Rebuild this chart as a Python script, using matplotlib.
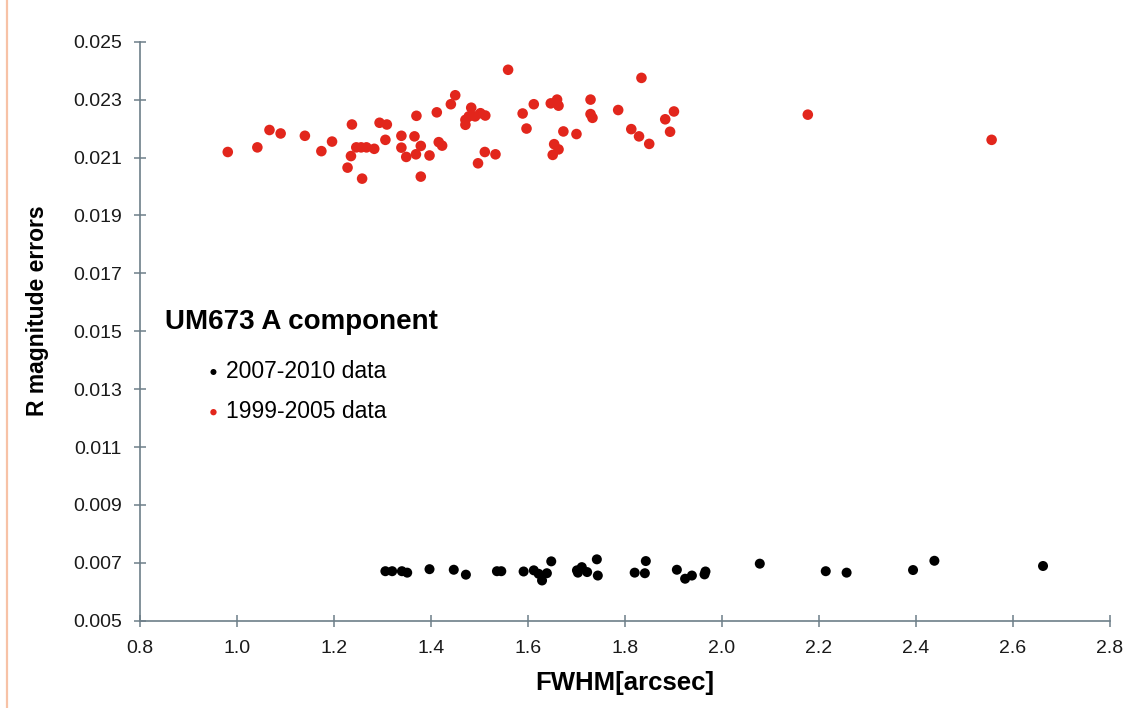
import matplotlib
matplotlib.use("Agg")
import matplotlib.pyplot as plt
from matplotlib.lines import Line2D

# FWHM [arcsec] and R magnitude errors, 1999-2005 data
fwhm_old = [0.981, 1.042, 1.067, 1.090, 1.140, 1.174, 1.196, 1.237, 1.235, 1.228,
            1.258, 1.246, 1.256, 1.267, 1.283, 1.294, 1.309, 1.306, 1.339, 1.339,
            1.349, 1.366, 1.370, 1.379, 1.369, 1.379, 1.397, 1.412, 1.416, 1.423,
            1.441, 1.450, 1.483, 1.471, 1.471, 1.478, 1.491, 1.502, 1.512, 1.511,
            1.497, 1.533, 1.559, 1.589, 1.597, 1.612, 1.647, 1.660, 1.663, 1.673,
            1.700, 1.654, 1.663, 1.651, 1.729, 1.729, 1.733, 1.786, 1.834, 1.813,
            1.829, 1.850, 1.883, 1.901, 1.893, 2.177, 2.556]
err_old = [0.02119, 0.02135, 0.02195, 0.02183, 0.02175, 0.02122, 0.02155, 0.02214, 0.02105, 0.02065,
           0.02027, 0.02135, 0.02135, 0.02135, 0.02130, 0.02220, 0.02214, 0.02161, 0.02175, 0.02134,
           0.02102, 0.02173, 0.02244, 0.02140, 0.02111, 0.02034, 0.02107, 0.02256, 0.02153, 0.02141,
           0.02284, 0.02315, 0.02272, 0.02230, 0.02213, 0.02242, 0.02242, 0.02253, 0.02245, 0.02119,
           0.02080, 0.02111, 0.02403, 0.02252, 0.02200, 0.02284, 0.02287, 0.02300, 0.02279, 0.02190,
           0.02181, 0.02146, 0.02128, 0.02109, 0.02300, 0.02250, 0.02237, 0.02264, 0.02375, 0.02198,
           0.02173, 0.02147, 0.02232, 0.02259, 0.02189, 0.02248, 0.02161]

# FWHM [arcsec] and R magnitude errors, 2007-2010 data
fwhm_new = [1.306, 1.320, 1.340, 1.351, 1.397, 1.447, 1.472, 1.536, 1.545, 1.591,
            1.612, 1.622, 1.629, 1.639, 1.648, 1.701, 1.711, 1.722, 1.703, 1.742,
            1.744, 1.820, 1.843, 1.841, 1.907, 1.924, 1.938, 1.964, 1.966, 2.078,
            2.214, 2.257, 2.394, 2.438, 2.662]
err_new = [0.00671, 0.00671, 0.00671, 0.00666, 0.00678, 0.00676, 0.00659, 0.00671, 0.00671, 0.00670,
           0.00674, 0.00662, 0.00639, 0.00664, 0.00705, 0.00674, 0.00685, 0.00668, 0.00666, 0.00712,
           0.00656, 0.00666, 0.00706, 0.00664, 0.00676, 0.00645, 0.00656, 0.00660, 0.00670, 0.00697,
           0.00671, 0.00666, 0.00675, 0.00707, 0.00689]

x_ticks = [0.8, 1.0, 1.2, 1.4, 1.6, 1.8, 2.0, 2.2, 2.4, 2.6, 2.8]
y_ticks = [0.005, 0.007, 0.009, 0.011, 0.013, 0.015, 0.017, 0.019, 0.021, 0.023, 0.025]

plt.rcParams['font.family'] = ['Liberation Sans', 'DejaVu Sans']

RED = '#e2261c'
AXIS_GRAY = '#6d7f89'

fig = plt.figure(figsize=(11.28, 7.08), dpi=100)
ax = fig.add_axes([0.1241, 0.1233, 0.8599, 0.8178])

ax.scatter(fwhm_new, err_new, s=52, color='black', edgecolors='none',
           label='2007-2010 data', zorder=3)
ax.scatter(fwhm_old, err_old, s=58, color=RED, edgecolors='none',
           label='1999-2005 data', zorder=3)

ax.set_xlim(0.8, 2.8)
ax.set_ylim(0.005, 0.025)
ax.set_xticks(x_ticks)
ax.set_xticklabels([f'{v:.1f}' for v in x_ticks])
ax.set_yticks(y_ticks)
ax.set_yticklabels([f'{v:.3f}' for v in y_ticks])

for side in ('top', 'right'):
    ax.spines[side].set_visible(False)
for side in ('left', 'bottom'):
    ax.spines[side].set_color(AXIS_GRAY)
    ax.spines[side].set_linewidth(1.2)

ax.tick_params(axis='both', direction='inout', length=8, width=1.1,
               color=AXIS_GRAY, labelsize=14, labelcolor='#1a1a1a')
ax.tick_params(axis='x', pad=10)
ax.tick_params(axis='y', pad=9)

ax.set_xlabel('FWHM[arcsec]', fontsize=18.5, fontweight='bold', labelpad=10)
ax.set_ylabel('R magnitude errors', fontsize=16.5, fontweight='bold')
ax.yaxis.set_label_coords(-0.094, 0.535)

fig.text(165 / 1128, 1 - 322 / 708, 'UM673 A component', fontsize=20,
         fontweight='bold', ha='left', va='center')

leg = ax.legend(loc='upper left', bbox_to_anchor=(202 / 1128, 1 - 360 / 708),
                bbox_transform=fig.transFigure, frameon=False, fontsize=16.5,
                markerscale=0.6, handletextpad=0.05, handlelength=1.0,
                labelspacing=0.75, borderpad=0, borderaxespad=0)

# thin coloured rule along the left edge of the page
fig.add_artist(Line2D([7 / 1128, 7 / 1128], [0, 1], transform=fig.transFigure,
                      color='#f7c2a6', lw=1.6))

fig.savefig('out.png', dpi=100)
